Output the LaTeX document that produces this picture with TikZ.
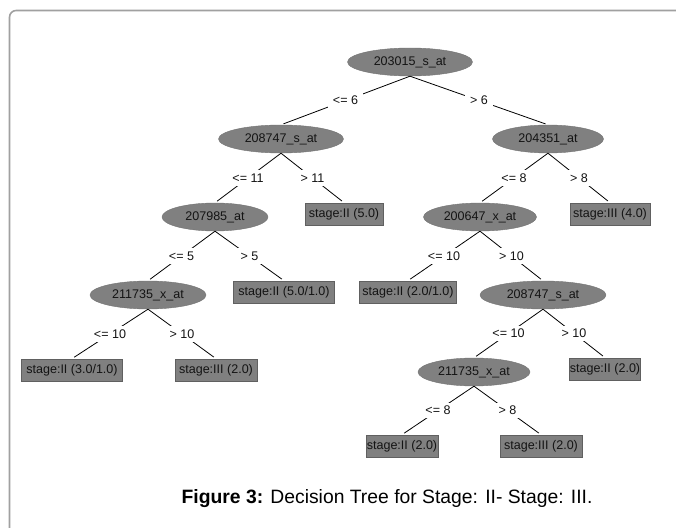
\documentclass[tikz,border=0pt]{standalone}
\usepackage{fontspec}
\setmainfont{Liberation Sans}
\usetikzlibrary{shapes.geometric}
\definecolor{nodegray}{HTML}{808080}
\definecolor{framegray}{HTML}{A0A0A0}
\definecolor{inkdark}{HTML}{141414}
\tikzset{
  test/.style={ellipse, fill=nodegray, draw=nodegray!90!black, line width=0.3pt,
    inner sep=0pt, minimum height=28*0.75pt, font=\fontsize{9.4}{11}\selectfont, text=inkdark},
  leaf/.style={rectangle, fill=nodegray, draw=nodegray!75!black, line width=0.5pt,
    inner sep=0pt, minimum height=22*0.75pt, font=\fontsize{9.4}{11}\selectfont, text=inkdark},
  branch/.style={fill=white, inner xsep=3.5pt, inner ysep=2.5pt, font=\fontsize{9.4}{11}\selectfont, text=inkdark},
  edge/.style={draw=black, line width=0.6pt, shorten >=2pt},
  wd/.style={minimum width=#1*0.75pt}
}
\begin{document}
\begin{tikzpicture}[x=0.75pt, y=-0.75pt]
\useasboundingbox (0,0) rectangle (676,528);
% outer panel frame
\draw[framegray, line width=1.2pt, rounded corners=5pt] (690,10.5) -- (9.5,10.5) -- (9.5,540);

% tests
\node[test, wd=125] (r)   at (410,62)  {203015\_s\_at};
\node[test, wd=125] (a)   at (281,139) {208747\_s\_at};
\node[test, wd=111] (b)   at (548,139) {204351\_at};
\node[test, wd=106] (c)   at (215,217) {207985\_at};
\node[test, wd=113] (d)   at (480,217) {200647\_x\_at};
\node[test, wd=116] (e)   at (148,295) {211735\_x\_at};
\node[test, wd=126] (f)   at (543,295) {208747\_s\_at};
\node[test, wd=112] (g)   at (474,372) {211735\_x\_at};

% leaves
\node[leaf, wd=78]  (l1) at (344,214) {stage:II (5.0)};
\node[leaf, wd=80]  (l2) at (610,214) {stage:III (4.0)};
\node[leaf, wd=101] (l3) at (284,292) {stage:II (5.0/1.0)};
\node[leaf, wd=97]  (l4) at (408,292) {stage:II (2.0/1.0)};
\node[leaf, wd=101] (l5) at (72,370)  {stage:II (3.0/1.0)};
\node[leaf, wd=82]  (l6) at (216,370) {stage:III (2.0)};
\node[leaf, wd=71]  (l7) at (605,369) {stage:II (2.0)};
\node[leaf, wd=72]  (l8) at (402,446) {stage:II (2.0)};
\node[leaf, wd=82]  (l9) at (541,446) {stage:III (2.0)};

% branches with split labels
\foreach \p/\q/\t in {r/a/{<= 6}, r/b/{> 6}, a/c/{<= 11}, a/l1/{> 11},
    b/d/{<= 8}, b/l2/{> 8}, c/e/{<= 5}, c/l3/{> 5}, d/l4/{<= 10}, d/f/{> 10},
    e/l5/{<= 10}, e/l6/{> 10}, f/g/{<= 10}, f/l7/{> 10}, g/l8/{<= 8}, g/l9/{> 8}}
  \draw[edge] (\p.south) -- (\q.north) node[midway, branch] {\t};

% caption
\node[font=\fontsize{14.5}{17}\selectfont] (cap) at (387,499)
  {\textbf{Figure 3:} Decision Tree for Stage: II- Stage: III.};
\end{tikzpicture}
\end{document}
